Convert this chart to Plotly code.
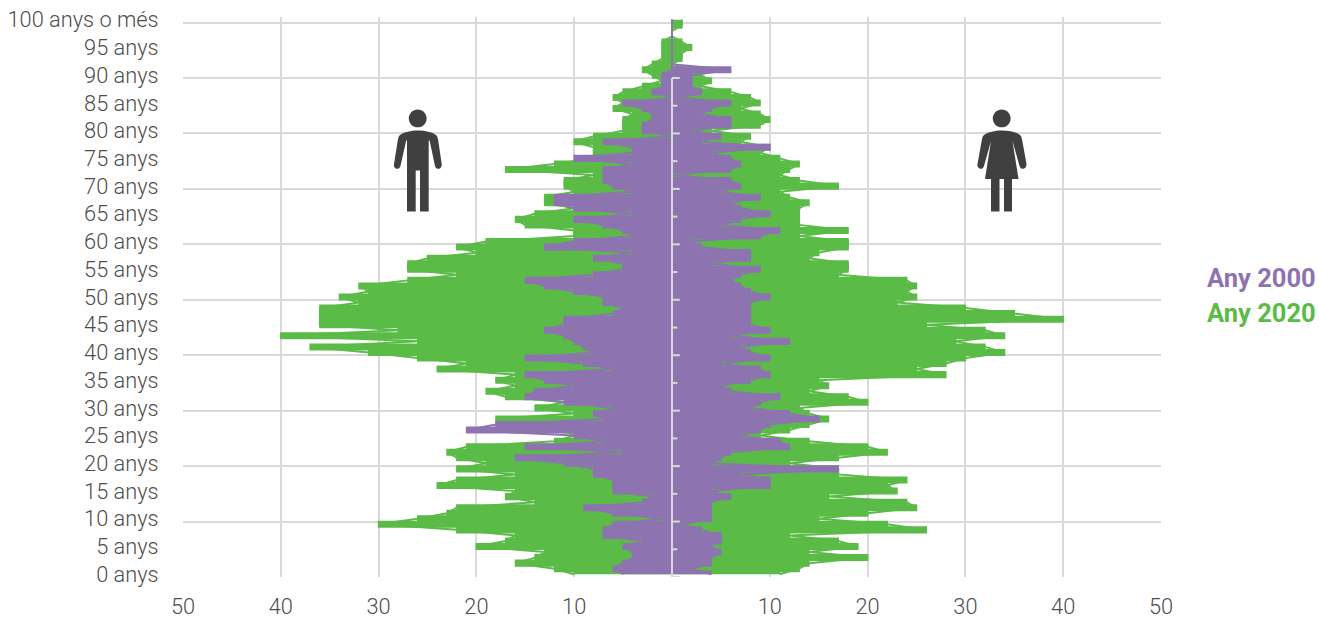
import plotly.graph_objects as go

ages = list(range(0, 101))

men_2020 = [10,12,16,14,13,20,17,16,22,30,
            26,23,22,14,17,16,24,22,16,22,
            19,22,23,21,12,10,11,14,18,10,
            14,11,17,19,16,18,16,24,21,26,
            31,37,26,40,28,36,36,36,36,32,
            34,31,32,27,22,27,27,25,20,22,
            19,10,10,15,16,14,10,13,13,10,
            11,11,8,17,12,8,8,8,10,8,
            5,5,5,4,6,5,6,5,3,1,
            2,3,2,1,1,1,1,0,0,0,0]
men_2000 = [5,6,5,4,4,5,3,7,7,6,
            1,6,9,3,2,6,6,6,8,8,
            11,16,5,15,7,10,21,18,7,8,
            6,11,15,14,10,13,15,6,9,15,
            8,9,10,11,13,11,11,6,5,7,
            7,10,13,15,8,5,5,8,4,13,
            10,4,5,7,10,4,10,12,12,4,
            6,7,7,7,4,10,4,4,7,0,
            3,3,2,2,3,5,0,2,1,1,
            1,0,0,0,0,0,0,0,0,0,0]
women_2020 = [11,13,14,20,14,19,17,12,26,22,
              15,20,25,24,16,23,22,24,17,17,
              12,17,22,20,14,9,12,14,16,14,
              13,20,18,14,16,15,28,25,28,30,
              34,32,29,34,32,26,40,35,30,23,
              25,24,25,24,17,18,18,14,15,18,
              18,13,18,13,13,13,13,14,12,11,
              17,13,11,12,13,11,9,10,7,8,
              4,9,10,9,7,9,8,6,3,4,
              3,2,0,1,1,2,1,0,0,1,1]
women_2000 = [4,2,4,4,5,4,5,5,3,1,
              4,4,4,4,6,4,10,10,7,17,
              4,5,6,12,11,7,9,10,15,12,
              8,9,11,6,5,8,10,9,5,10,
              8,7,12,6,10,8,8,8,8,8,
              10,8,7,6,7,9,4,8,8,3,
              2,9,11,5,7,10,7,6,9,5,
              7,6,0,6,7,6,4,10,3,5,
              2,6,6,3,4,6,1,3,2,2,
              2,6,0,0,0,0,0,0,0,0,0]

x_ticks = [-50, -40, -30, -20, -10, 10, 20, 30, 40, 50]
x_labels = ["50", "40", "30", "20", "10", "10", "20", "30", "40", "50"]
y_ticks = list(range(0, 101, 5))
y_labels = [f"{a} anys" for a in y_ticks[:-1]] + ["100 anys o més"]
grid_ages = list(range(0, 101, 10))
axis_ticks = list(range(0, 91, 5))

PURPLE = "#8E73B1"
GREEN = "#5ABB47"
GRID = "#D9D9D9"
DARK = "#404040"
W, H = 1319, 619
L, R, T, B = 183, 1161, 17.2, 576.7


def series_traces(vals, sign, color, name):
    xs = [sign * v for v in vals]
    ys = [a + 0.5 for a in ages]
    return [
        go.Scatter(x=xs, y=ys, mode="lines", name=name, line=dict(color=color, width=1.5, shape="vhv"),
                   fill="tozerox", fillcolor=color, showlegend=False, hoverinfo="x+y"),
        go.Scatter(x=xs, y=ys, mode="lines", name=name, line=dict(color=color, width=2),
                   showlegend=False, hoverinfo="skip"),
    ]


def px(d):
    out = []
    for tok in d.split():
        if "," in tok:
            a, b = tok.split(",")
            out.append(f"{(float(a)-L)/(R-L):.5f},{(B-float(b))/(B-T):.5f}")
        else:
            out.append(tok)
    return " ".join(out)


def circle(cx, cy, r):
    k = 0.5523 * r
    return (f"M {cx-r},{cy} C {cx-r},{cy-k} {cx-k},{cy-r} {cx},{cy-r} C {cx+k},{cy-r} {cx+r},{cy-k} {cx+r},{cy} "
            f"C {cx+r},{cy+k} {cx+k},{cy+r} {cx},{cy+r} C {cx-k},{cy+r} {cx-r},{cy+k} {cx-r},{cy} Z")


man = ("M 400,135 C 404,132 411,130.5 418,130.5 C 425,130.5 432,132 436,135 C 437,136 437.5,137 438,139 "
       "L 441.7,164 C 442.5,169 436.5,171 435,166 L 429.5,140 L 428.7,141 L 428.7,211.5 L 420,211.5 L 420,170.5 "
       "L 415.7,170.5 L 415.7,211.5 L 407,211.5 L 407,141 L 406.3,140 L 400.5,166 C 399,171 393,169 394,164 "
       "L 398,139 C 398.5,137 399,136 400,135 Z")
woman = ("M 984,135 C 988,132 995,130.5 1002,130.5 C 1009,130.5 1016,132 1020,135 C 1021,136 1021.5,137 1022,139 "
         "L 1026.5,164 C 1027,169 1021,171 1019.5,166 L 1012.5,141 L 1018.5,179 L 1012,179 L 1012,211.5 L 1004,211.5 "
         "L 1004,179 L 999.5,179 L 999.5,211.5 L 991,211.5 L 991,179 L 985,179 L 991,141 L 984,166 "
         "C 982.5,171 976.5,169 977.5,164 L 982,139 C 982.5,137 983,136 984,135 Z")

shapes = [dict(type="line", xref="x", yref="y", x0=0, x1=0, y0=0, y1=90, layer="above",
               line=dict(color=GRID, width=2))]
for a in axis_ticks:
    shapes.append(dict(type="line", xref="x", yref="y", x0=0, x1=0.8 if a % 10 == 0 else 0.55, y0=a, y1=a,
                       layer="above", line=dict(color=GRID, width=2)))
for path in (man, woman):
    shapes.append(dict(type="path", xref="paper", yref="paper", path=px(path), fillcolor=DARK,
                       line=dict(width=0), layer="above"))
for cx in (417.7, 1001.7):
    shapes.append(dict(type="path", xref="paper", yref="paper", path=px(circle(cx, 118.5, 8.9)),
                       fillcolor=DARK, line=dict(width=0), layer="above"))

fig = go.Figure(
    series_traces(men_2020, -1, GREEN, "Homes 2020")
    + series_traces(women_2020, 1, GREEN, "Dones 2020")
    + series_traces(men_2000, -1, PURPLE, "Homes 2000")
    + series_traces(women_2000, 1, PURPLE, "Dones 2000")
)

fig.update_layout(
    width=W, height=H, autosize=False,
    margin=dict(l=L, r=W - R, t=T, b=H - B, pad=0),
    paper_bgcolor="white", plot_bgcolor="white",
    font=dict(family="Roboto", size=21.8, color="#4D4D4D", weight=300),
    shapes=shapes,
    annotations=[
        dict(text="<b>Any 2000</b>", xref="paper", yref="paper", x=(1318 - L) / (R - L), y=(B - 278) / (B - T),
             xanchor="right", yanchor="middle", showarrow=False,
             font=dict(size=25.5, color=PURPLE, family="Roboto", weight=700)),
        dict(text="<b>Any 2020</b>", xref="paper", yref="paper", x=(1318 - L) / (R - L), y=(B - 313) / (B - T),
             xanchor="right", yanchor="middle", showarrow=False,
             font=dict(size=25.5, color=GREEN, family="Roboto", weight=700)),
    ],
    xaxis=dict(range=[-50, 50], tickmode="array", tickvals=x_ticks, ticktext=x_labels, showgrid=True,
               gridcolor=GRID, gridwidth=2, zeroline=False, showline=False, ticks="outside", ticklen=10,
               tickcolor="rgba(0,0,0,0)", tickangle=0, automargin=False),
    yaxis=dict(range=[0, 101], tickmode="array", tickvals=[a + 0.5 for a in y_ticks], ticktext=y_labels,
               showgrid=False, zeroline=False, showline=False, ticks="outside", ticklen=19,
               tickcolor="rgba(0,0,0,0)", automargin=False,
               minor=dict(tickmode="array", tickvals=grid_ages, showgrid=True, gridcolor=GRID, gridwidth=2, ticks="")),
)

fig.write_html("out.html", config=dict(displayModeBar=False), post_script="document.body.style.margin='0';")
